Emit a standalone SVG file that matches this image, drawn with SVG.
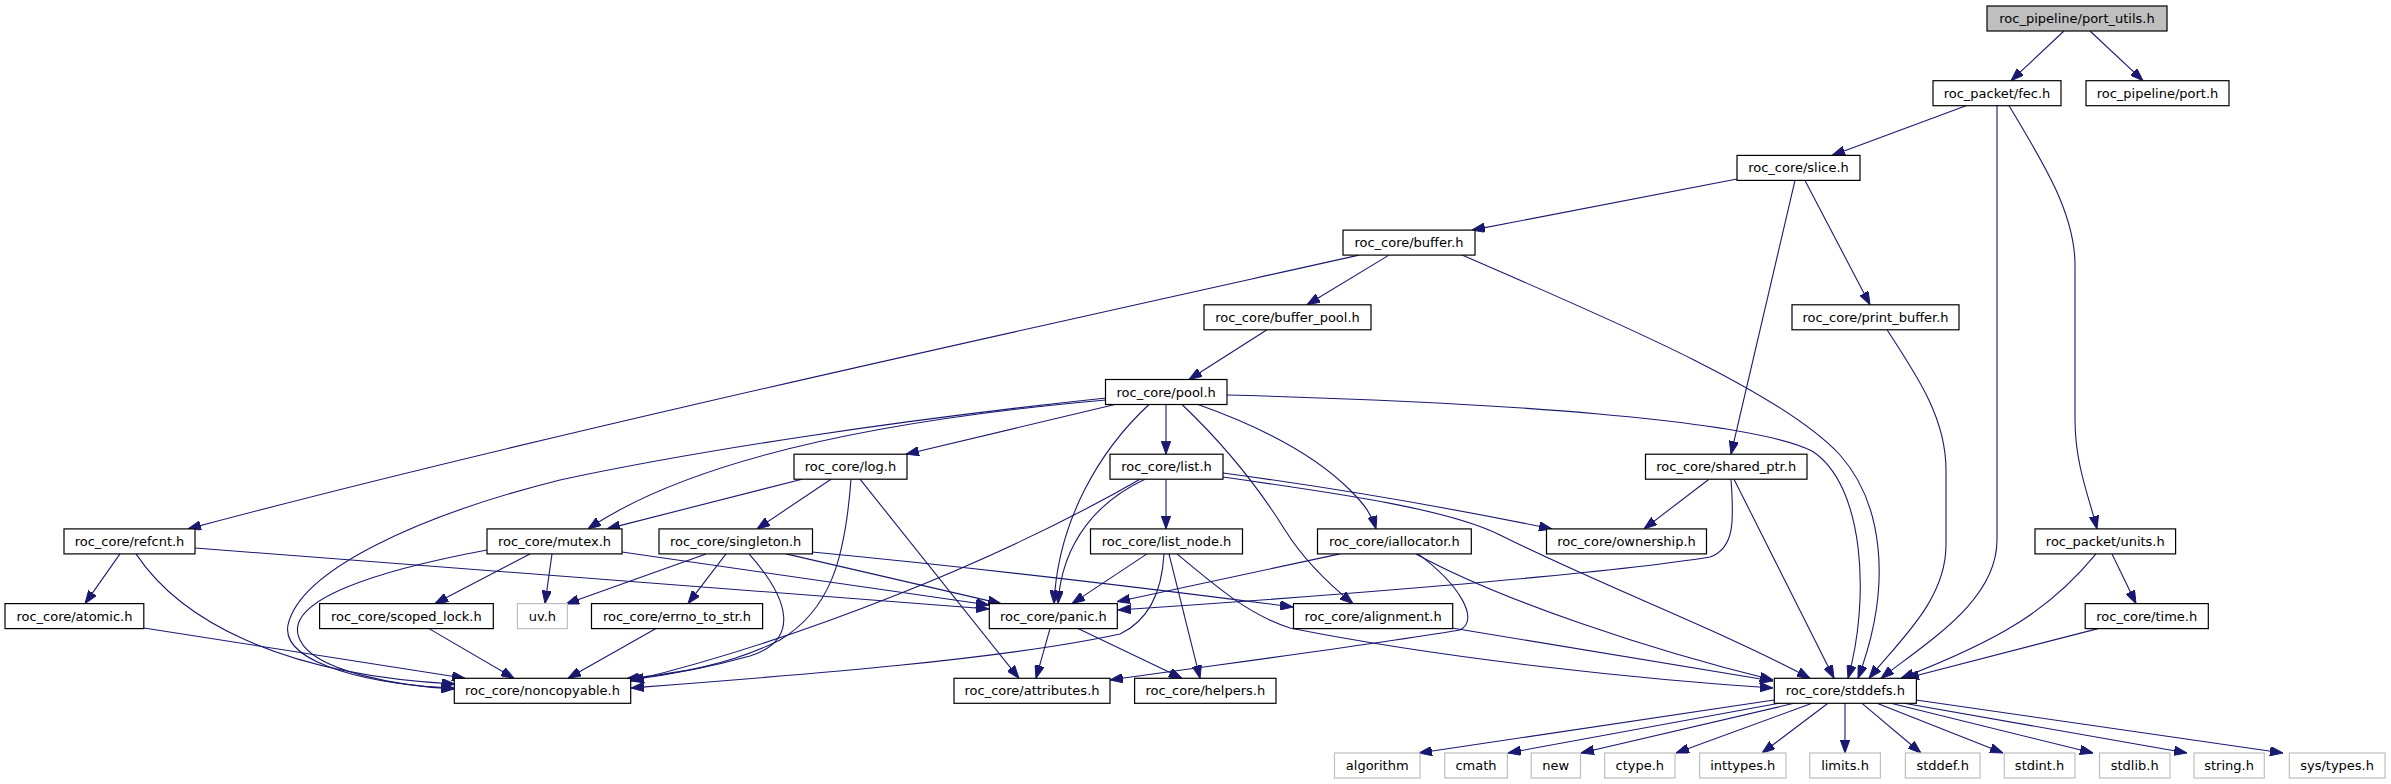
<svg xmlns="http://www.w3.org/2000/svg" width="2391" height="784" viewBox="0 0 2391 784">
<style>
.n rect{fill:#fff;stroke:#000;stroke-width:1.2}
.r rect{fill:#bfbfbf;stroke:#000;stroke-width:1.2}
.x rect{fill:#fff;stroke:#bfbfbf;stroke-width:1.2}
text{font-family:"DejaVu Sans","Liberation Sans",sans-serif;font-size:13px;fill:#000;text-anchor:middle}
#edges path{fill:none;stroke:#191970;stroke-width:1.1;marker-end:url(#a)}
</style>
<defs>
<marker id="a" viewBox="0 0 13 9.4" refX="13" refY="4.7" markerWidth="13" markerHeight="9.4" orient="auto" markerUnits="userSpaceOnUse">
<path d="M0,0 L13,4.7 L0,9.4 Z" fill="#191970" stroke="#191970" stroke-width="1"/>
</marker>
</defs>
<rect width="2391" height="784" fill="#fff"/>
<g id="edges">
<path d="M2064,31 L2011,80.7"/>
<path d="M2090,31 L2143,80.7"/>
<path d="M1966,105.7 L1832,155.4"/>
<path d="M1997,105.7 L1997,540 C1997,600 1930,640 1881,678.3"/>
<path d="M2009,105.7 C2045,165 2075,215 2075,265 L2075,420 C2075,465 2090,500 2097,528.9"/>
<path d="M1737,179 L1472,230.1"/>
<path d="M1795,180.4 L1731,454.2"/>
<path d="M1805,180.4 L1870,304.8"/>
<path d="M1389,255.1 L1307,304.8"/>
<path d="M1359,255.1 C1000,335 520,440 188,528.9"/>
<path d="M1462,255.1 C1600,315 1780,390 1840,455 C1880,500 1895,580 1858,678.3"/>
<path d="M1267,329.8 L1189,379.5"/>
<path d="M1887,329.8 C1920,380 1946,420 1946,470 L1946,545 C1946,600 1900,640 1869,678.3"/>
<path d="M1227,395 C1500,402 1750,420 1812,451 C1865,485 1870,600 1848,678.3"/>
<path d="M1106,398 C900,420 700,450 560,480 C420,515 300,570 288,625 C280,665 380,686 454,688"/>
<path d="M1106,400 C880,420 690,460 588,528.9"/>
<path d="M1115,404.5 L906,454.2"/>
<path d="M1166,404.5 L1166,454.2"/>
<path d="M1149,404.5 C1100,450 1058,520 1054,603.6"/>
<path d="M1182,404.5 C1230,450 1260,490 1285,530 C1305,562 1330,585 1353,603.6"/>
<path d="M1198,404.5 C1270,430 1320,460 1350,490 C1365,505 1372,515 1376,528.9"/>
<path d="M802,479.2 L607,528.9"/>
<path d="M831,479.2 L757,528.9"/>
<path d="M851,479.2 C845,560 830,610 780,640 C730,665 680,673 626,679"/>
<path d="M860,479.2 L1019,678.3"/>
<path d="M1166,479.2 L1166,528.9"/>
<path d="M1145,479.2 C1100,500 1062,540 1058,603.6"/>
<path d="M1140,479.2 C1000,560 800,640 631,681"/>
<path d="M1223,473 C1350,490 1450,508 1552,528.9"/>
<path d="M1223,477 C1350,495 1450,510 1500,535 C1600,585 1720,630 1810,678.3"/>
<path d="M1709,479.2 L1644,528.9"/>
<path d="M1731,479.2 C1734,520 1735,548 1710,557 C1600,575 1300,598 1118,610"/>
<path d="M1734,479.2 L1834,678.3"/>
<path d="M120,553.9 L85,603.6"/>
<path d="M136,553.9 C180,620 280,675 455,684"/>
<path d="M195,548 L989,609"/>
<path d="M530,553.9 L435,603.6"/>
<path d="M552,553.9 L545,603.6"/>
<path d="M487,550 C380,570 280,600 300,640 C315,672 400,686 454,689"/>
<path d="M622,552 L989,605"/>
<path d="M706,553.9 L566,604"/>
<path d="M726,553.9 L688,603.6"/>
<path d="M749,553.9 C790,600 800,640 750,656 C700,670 660,676 630,680"/>
<path d="M786,553.9 L1001,603.6"/>
<path d="M812,552 C1000,570 1200,595 1293,607"/>
<path d="M1147,553.9 L1072,603.6"/>
<path d="M1164,553.9 C1162,590 1150,620 1120,634 C1000,660 800,675 631,688"/>
<path d="M1169,553.9 L1200,678.3"/>
<path d="M1177,553.9 C1220,590 1250,615 1290,628 C1450,660 1650,680 1773,688"/>
<path d="M1340,553.9 L1117,601.7"/>
<path d="M1418,553.9 C1460,585 1480,620 1460,630 C1350,648 1200,667 1110,680"/>
<path d="M1416,553.9 C1500,600 1650,650 1773,680"/>
<path d="M1452,628 L1773,681"/>
<path d="M2112,553.9 L2136,603.6"/>
<path d="M2096,553.9 C2050,610 2000,640 1901,678.3"/>
<path d="M2098,628.6 L1906,678.3"/>
<path d="M144,628 L465,678.3"/>
<path d="M429,628.6 L514,678.3"/>
<path d="M656,628.6 L568,678.3"/>
<path d="M1050,628.6 L1036,678.3"/>
<path d="M1078,628.6 L1182,678.3"/>
<path d="M1774,700 L1419,753"/>
<path d="M1779,703.3 L1508,753"/>
<path d="M1794,703.3 L1581,753"/>
<path d="M1812,703.3 L1676,753"/>
<path d="M1828,703.3 L1762,753"/>
<path d="M1845,703.3 L1845,753"/>
<path d="M1862,703.3 L1921,753"/>
<path d="M1877,703.3 L2003,753"/>
<path d="M1891,703.3 L2093,753"/>
<path d="M1904,703.3 L2187,753"/>
<path d="M1916,700 L2283,753"/>
</g>
<g id="port_utils" class="r"><rect x="1987" y="6" width="180" height="25"/><text x="2077" y="23">roc_pipeline/port_utils.h</text></g>
<g id="fec" class="n"><rect x="1933" y="80.7" width="128" height="25"/><text x="1997" y="97.7">roc_packet/fec.h</text></g>
<g id="port" class="n"><rect x="2086" y="80.7" width="143" height="25"/><text x="2157.5" y="97.7">roc_pipeline/port.h</text></g>
<g id="slice" class="n"><rect x="1737" y="155.4" width="123" height="25"/><text x="1798.5" y="172.4">roc_core/slice.h</text></g>
<g id="buffer" class="n"><rect x="1343" y="230.1" width="132" height="25"/><text x="1409" y="247.1">roc_core/buffer.h</text></g>
<g id="buffer_pool" class="n"><rect x="1204" y="304.8" width="167" height="25"/><text x="1287.5" y="321.8">roc_core/buffer_pool.h</text></g>
<g id="print_buffer" class="n"><rect x="1792" y="304.8" width="167" height="25"/><text x="1875.5" y="321.8">roc_core/print_buffer.h</text></g>
<g id="pool" class="n"><rect x="1105.5" y="379.5" width="121.5" height="25"/><text x="1166.2" y="396.5">roc_core/pool.h</text></g>
<g id="log" class="n"><rect x="794" y="454.2" width="113" height="25"/><text x="850.5" y="471.2">roc_core/log.h</text></g>
<g id="list" class="n"><rect x="1110" y="454.2" width="113" height="25"/><text x="1166.5" y="471.2">roc_core/list.h</text></g>
<g id="shared_ptr" class="n"><rect x="1645.5" y="454.2" width="161.5" height="25"/><text x="1726.2" y="471.2">roc_core/shared_ptr.h</text></g>
<g id="refcnt" class="n"><rect x="64" y="528.9" width="131" height="25"/><text x="129.5" y="545.9">roc_core/refcnt.h</text></g>
<g id="mutex" class="n"><rect x="487" y="528.9" width="135" height="25"/><text x="554.5" y="545.9">roc_core/mutex.h</text></g>
<g id="singleton" class="n"><rect x="659" y="528.9" width="153.5" height="25"/><text x="735.7" y="545.9">roc_core/singleton.h</text></g>
<g id="list_node" class="n"><rect x="1090.5" y="528.9" width="152" height="25"/><text x="1166.5" y="545.9">roc_core/list_node.h</text></g>
<g id="iallocator" class="n"><rect x="1317.5" y="528.9" width="153.8" height="25"/><text x="1394.4" y="545.9">roc_core/iallocator.h</text></g>
<g id="ownership" class="n"><rect x="1546.5" y="528.9" width="160" height="25"/><text x="1626.5" y="545.9">roc_core/ownership.h</text></g>
<g id="units" class="n"><rect x="2035" y="528.9" width="140.6" height="25"/><text x="2105.3" y="545.9">roc_packet/units.h</text></g>
<g id="atomic" class="n"><rect x="5" y="603.6" width="138.8" height="25"/><text x="74.4" y="620.6">roc_core/atomic.h</text></g>
<g id="scoped_lock" class="n"><rect x="319.6" y="603.6" width="173.7" height="25"/><text x="406.4" y="620.6">roc_core/scoped_lock.h</text></g>
<g id="uv" class="x"><rect x="517.4" y="603.6" width="50" height="25"/><text x="542.4" y="620.6">uv.h</text></g>
<g id="errno_to_str" class="n"><rect x="591.5" y="603.6" width="171.1" height="25"/><text x="677" y="620.6">roc_core/errno_to_str.h</text></g>
<g id="panic" class="n"><rect x="989.3" y="603.6" width="128" height="25"/><text x="1053.3" y="620.6">roc_core/panic.h</text></g>
<g id="alignment" class="n"><rect x="1293.5" y="603.6" width="159.2" height="25"/><text x="1373.1" y="620.6">roc_core/alignment.h</text></g>
<g id="time" class="n"><rect x="2085.2" y="603.6" width="123.1" height="25"/><text x="2146.7" y="620.6">roc_core/time.h</text></g>
<g id="noncopyable" class="n"><rect x="454.3" y="678.3" width="176.4" height="25"/><text x="542.5" y="695.3">roc_core/noncopyable.h</text></g>
<g id="attributes" class="n"><rect x="954" y="678.3" width="156" height="25"/><text x="1032" y="695.3">roc_core/attributes.h</text></g>
<g id="helpers" class="n"><rect x="1134.6" y="678.3" width="141.4" height="25"/><text x="1205.3" y="695.3">roc_core/helpers.h</text></g>
<g id="stddefs" class="n"><rect x="1774.3" y="678.3" width="142.1" height="25"/><text x="1845.3" y="695.3">roc_core/stddefs.h</text></g>
<g id="algorithm" class="x"><rect x="1334.5" y="753" width="85.5" height="25"/><text x="1377.2" y="770">algorithm</text></g>
<g id="cmath" class="x"><rect x="1444.7" y="753" width="62.7" height="25"/><text x="1476" y="770">cmath</text></g>
<g id="new" class="x"><rect x="1531.2" y="753" width="49.3" height="25"/><text x="1555.8" y="770">new</text></g>
<g id="ctype" class="x"><rect x="1604.6" y="753" width="70.4" height="25"/><text x="1639.8" y="770">ctype.h</text></g>
<g id="inttypes" class="x"><rect x="1699.6" y="753" width="86.4" height="25"/><text x="1742.8" y="770">inttypes.h</text></g>
<g id="limits" class="x"><rect x="1809.7" y="753" width="70.7" height="25"/><text x="1845" y="770">limits.h</text></g>
<g id="stddef" class="x"><rect x="1905.4" y="753" width="74.6" height="25"/><text x="1942.7" y="770">stddef.h</text></g>
<g id="stdint" class="x"><rect x="2004.3" y="753" width="70.7" height="25"/><text x="2039.6" y="770">stdint.h</text></g>
<g id="stdlib" class="x"><rect x="2099.5" y="753" width="70.5" height="25"/><text x="2134.7" y="770">stdlib.h</text></g>
<g id="string" class="x"><rect x="2194" y="753" width="70.3" height="25"/><text x="2229.1" y="770">string.h</text></g>
<g id="systypes" class="x"><rect x="2289.3" y="753" width="95.7" height="25"/><text x="2337.1" y="770">sys/types.h</text></g>
</svg>
